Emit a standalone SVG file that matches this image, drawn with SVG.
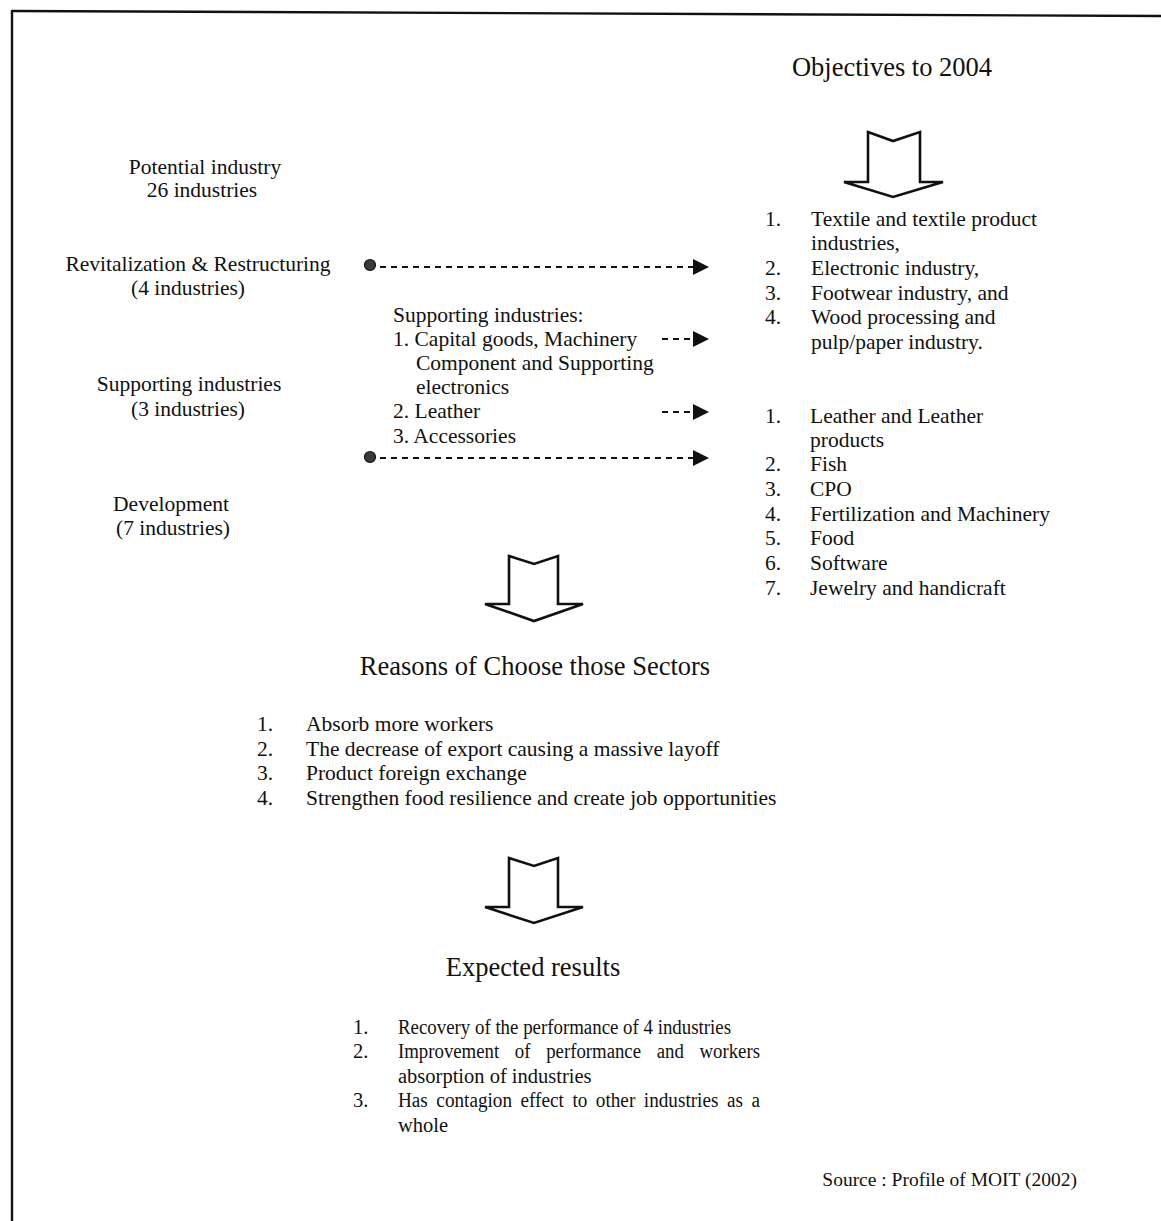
<svg xmlns="http://www.w3.org/2000/svg" width="1161" height="1221" viewBox="0 0 1161 1221">
  <style>
    text { font-family: "Liberation Serif", "Times New Roman", serif; fill: #111; }
    .b { font-size: 21.5px; }
    .e { font-size: 20.5px; }
    .c { text-anchor: middle; }
    .t { font-size: 26.5px; }
    .s { font-size: 19.5px; }
    .dash { stroke: #111; stroke-width: 2.2; stroke-dasharray: 6 5; fill: none; }
    .blk { fill: #fff; stroke: #111; stroke-width: 2.6; stroke-linejoin: miter; }
    .dot { fill: #3a3a3a; stroke: #111; stroke-width: 1.2; }
  </style>
  <defs>
    <marker id="ah" viewBox="0 0 16 16" refX="2" refY="8" markerWidth="16" markerHeight="16" markerUnits="userSpaceOnUse" orient="auto">
      <path d="M0,0 L16,8 L0,16 Z" fill="#111"/>
    </marker>
  </defs>
  <rect width="1161" height="1221" fill="#fff"/>

  <!-- frame (left and top edges) -->
  <g id="frame" stroke="#111" stroke-width="2.4">
    <line x1="12" y1="11" x2="1161" y2="16"/>
    <line x1="12" y1="10" x2="12" y2="1221"/>
  </g>

  <g id="objectives-title">
    <text class="t c" x="892" y="76">Objectives to 2004</text>
  </g>

  <g id="potential">
    <text class="b c" x="205" y="174">Potential industry</text>
    <text class="b c" x="202" y="197">26 industries</text>
  </g>
  <g id="revitalization">
    <text class="b c" x="198" y="271">Revitalization &amp; Restructuring</text>
    <text class="b c" x="188" y="295">(4 industries)</text>
  </g>
  <g id="supporting">
    <text class="b c" x="189" y="391">Supporting industries</text>
    <text class="b c" x="188" y="416">(3 industries)</text>
  </g>
  <g id="development">
    <text class="b c" x="171" y="511">Development</text>
    <text class="b c" x="173" y="535">(7 industries)</text>
  </g>

  <g id="supporting-list">
    <text class="b" x="393" y="322">Supporting industries:</text>
    <text class="b" x="393" y="346">1. Capital goods, Machinery</text>
    <text class="b" x="416" y="370">Component and Supporting</text>
    <text class="b" x="416" y="394">electronics</text>
    <text class="b" x="393" y="418">2. Leather</text>
    <text class="b" x="393" y="443">3. Accessories</text>
  </g>

  <g id="objectives-list-1">
    <text class="b" x="765" y="226">1.</text><text class="b" x="811" y="226">Textile and textile product</text>
    <text class="b" x="811" y="250">industries,</text>
    <text class="b" x="765" y="275">2.</text><text class="b" x="811" y="275">Electronic industry,</text>
    <text class="b" x="765" y="300">3.</text><text class="b" x="811" y="300">Footwear industry, and</text>
    <text class="b" x="765" y="324">4.</text><text class="b" x="811" y="324">Wood processing and</text>
    <text class="b" x="811" y="349">pulp/paper industry.</text>
  </g>

  <g id="objectives-list-2">
    <text class="b" x="765" y="423">1.</text><text class="b" x="810" y="423">Leather and Leather</text>
    <text class="b" x="810" y="447">products</text>
    <text class="b" x="765" y="471">2.</text><text class="b" x="810" y="471">Fish</text>
    <text class="b" x="765" y="496">3.</text><text class="b" x="810" y="496">CPO</text>
    <text class="b" x="765" y="521">4.</text><text class="b" x="810" y="521">Fertilization and Machinery</text>
    <text class="b" x="765" y="545">5.</text><text class="b" x="810" y="545">Food</text>
    <text class="b" x="765" y="570">6.</text><text class="b" x="810" y="570">Software</text>
    <text class="b" x="765" y="595">7.</text><text class="b" x="810" y="595">Jewelry and handicraft</text>
  </g>

  <g id="reasons">
    <text class="t c" x="535" y="675">Reasons of Choose those Sectors</text>
    <text class="b" x="257" y="731">1.</text><text class="b" x="306" y="731">Absorb more workers</text>
    <text class="b" x="257" y="756">2.</text><text class="b" x="306" y="756">The decrease of export causing a massive layoff</text>
    <text class="b" x="257" y="780">3.</text><text class="b" x="306" y="780">Product foreign exchange</text>
    <text class="b" x="257" y="805">4.</text><text class="b" x="306" y="805">Strengthen food resilience and create job opportunities</text>
  </g>

  <g id="expected">
    <text class="t c" x="533" y="976">Expected results</text>
    <text class="e" x="353" y="1034">1.</text><text class="e" x="398" y="1034" textLength="333" lengthAdjust="spacingAndGlyphs">Recovery of the performance of 4 industries</text>
    <text class="e" x="353" y="1058">2.</text><text class="e" x="398" y="1058" word-spacing="12" textLength="362" lengthAdjust="spacingAndGlyphs">Improvement of performance and workers</text>
    <text class="e" x="398" y="1083">absorption of industries</text>
    <text class="e" x="353" y="1107">3.</text><text class="e" x="398" y="1107" word-spacing="4" textLength="362" lengthAdjust="spacingAndGlyphs">Has contagion effect to other industries as a</text>
    <text class="e" x="398" y="1132">whole</text>
  </g>

  <g id="source">
    <text class="s" x="1077" y="1186" text-anchor="end">Source : Profile of MOIT (2002)</text>
  </g>

  <g id="connectors">
    <circle class="dot" cx="370" cy="265" r="5.5"/>
    <line class="dash" x1="380" y1="267" x2="695" y2="267" marker-end="url(#ah)"/>
    <line class="dash" x1="662" y1="339" x2="695" y2="339" marker-end="url(#ah)"/>
    <line class="dash" x1="662" y1="412" x2="695" y2="412" marker-end="url(#ah)"/>
    <circle class="dot" cx="370" cy="457" r="5.5"/>
    <line class="dash" x1="380" y1="458" x2="695" y2="458" marker-end="url(#ah)"/>

    <path class="blk" d="M868,132 L893,141 L920,132 L920,182 L943,182 L893,197 L844,182 L868,182 Z"/>
    <path class="blk" d="M509,556 L534,564 L558,556 L558,604 L583,604 L534,621 L485,604 L509,604 Z"/>
    <path class="blk" d="M509,858 L534,866 L558,858 L558,907 L583,907 L534,923 L485,907 L509,907 Z"/>
  </g>
</svg>
